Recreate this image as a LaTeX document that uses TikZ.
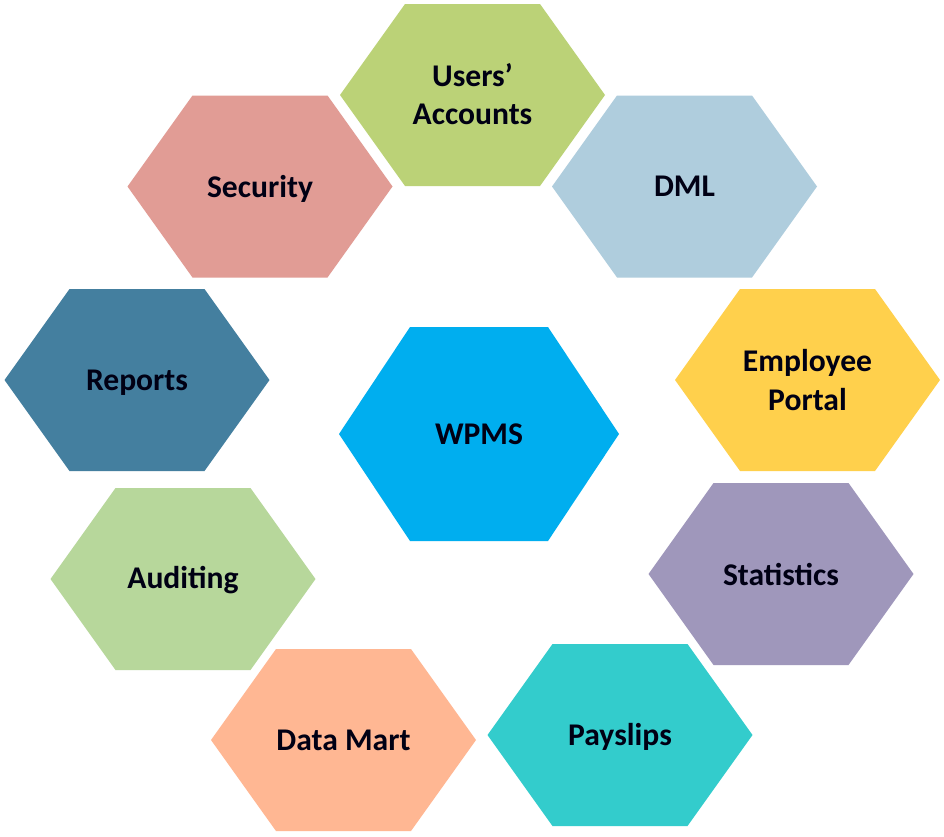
\documentclass[tikz,border=0pt]{standalone}
\usepackage{fontspec}
\setmainfont{Carlito}
\definecolor{cusers}{HTML}{BBD277}
\definecolor{cdml}{HTML}{AFCDDD}
\definecolor{csec}{HTML}{E19C95}
\definecolor{crep}{HTML}{447F9F}
\definecolor{cwpms}{HTML}{00AEEF}
\definecolor{cemp}{HTML}{FFD04C}
\definecolor{cstat}{HTML}{9F97BB}
\definecolor{caud}{HTML}{B7D79B}
\definecolor{cpay}{HTML}{33CCCC}
\definecolor{cmart}{HTML}{FFB793}
\tikzset{
 x=1pt,y=-1pt,
 lab/.style={font=\bfseries\fontsize{31.6}{38.5}\selectfont,align=center,text=black!92!blue,inner sep=0pt}
}
\newcommand{\hex}[6]{%
 \fill[#4] (#2-132.5,#3) -- (#2-67.5,#3-91) -- (#2+67.5,#3-91) -- (#2+132.5,#3) -- (#2+67.5,#3+91) -- (#2-67.5,#3+91) -- cycle;
 \node[lab] (#1) at (#2,#3+#6) {#5};
}
\begin{document}
\begin{tikzpicture}
\useasboundingbox (0,0) rectangle (944,836);
\fill[white] (0,0) rectangle (944,836);
\hex{users}{472.5}{95}{cusers}{Users’\\Accounts}{-1}
\hex{dml}{684.5}{186.5}{cdml}{DML}{0}
\hex{sec}{260}{186.5}{csec}{Security}{2}
\hex{rep}{137}{380}{crep}{Reports}{2.5}
\hex{emp}{807.5}{380}{cemp}{Employee\\Portal}{0}
\hex{aud}{183}{579}{caud}{Auditing}{1}
\hex{stat}{781}{574}{cstat}{Statistics}{0}
\hex{mart}{343.5}{740}{cmart}{Data Mart}{0}
\hex{pay}{620}{735}{cpay}{Payslips}{2}
\fill[cwpms] (339,434) -- (410,327) -- (548,327) -- (619,434) -- (548,541) -- (410,541) -- cycle;
\node[lab] (wpms) at (479,434) {WPMS};
\end{tikzpicture}
\end{document}
